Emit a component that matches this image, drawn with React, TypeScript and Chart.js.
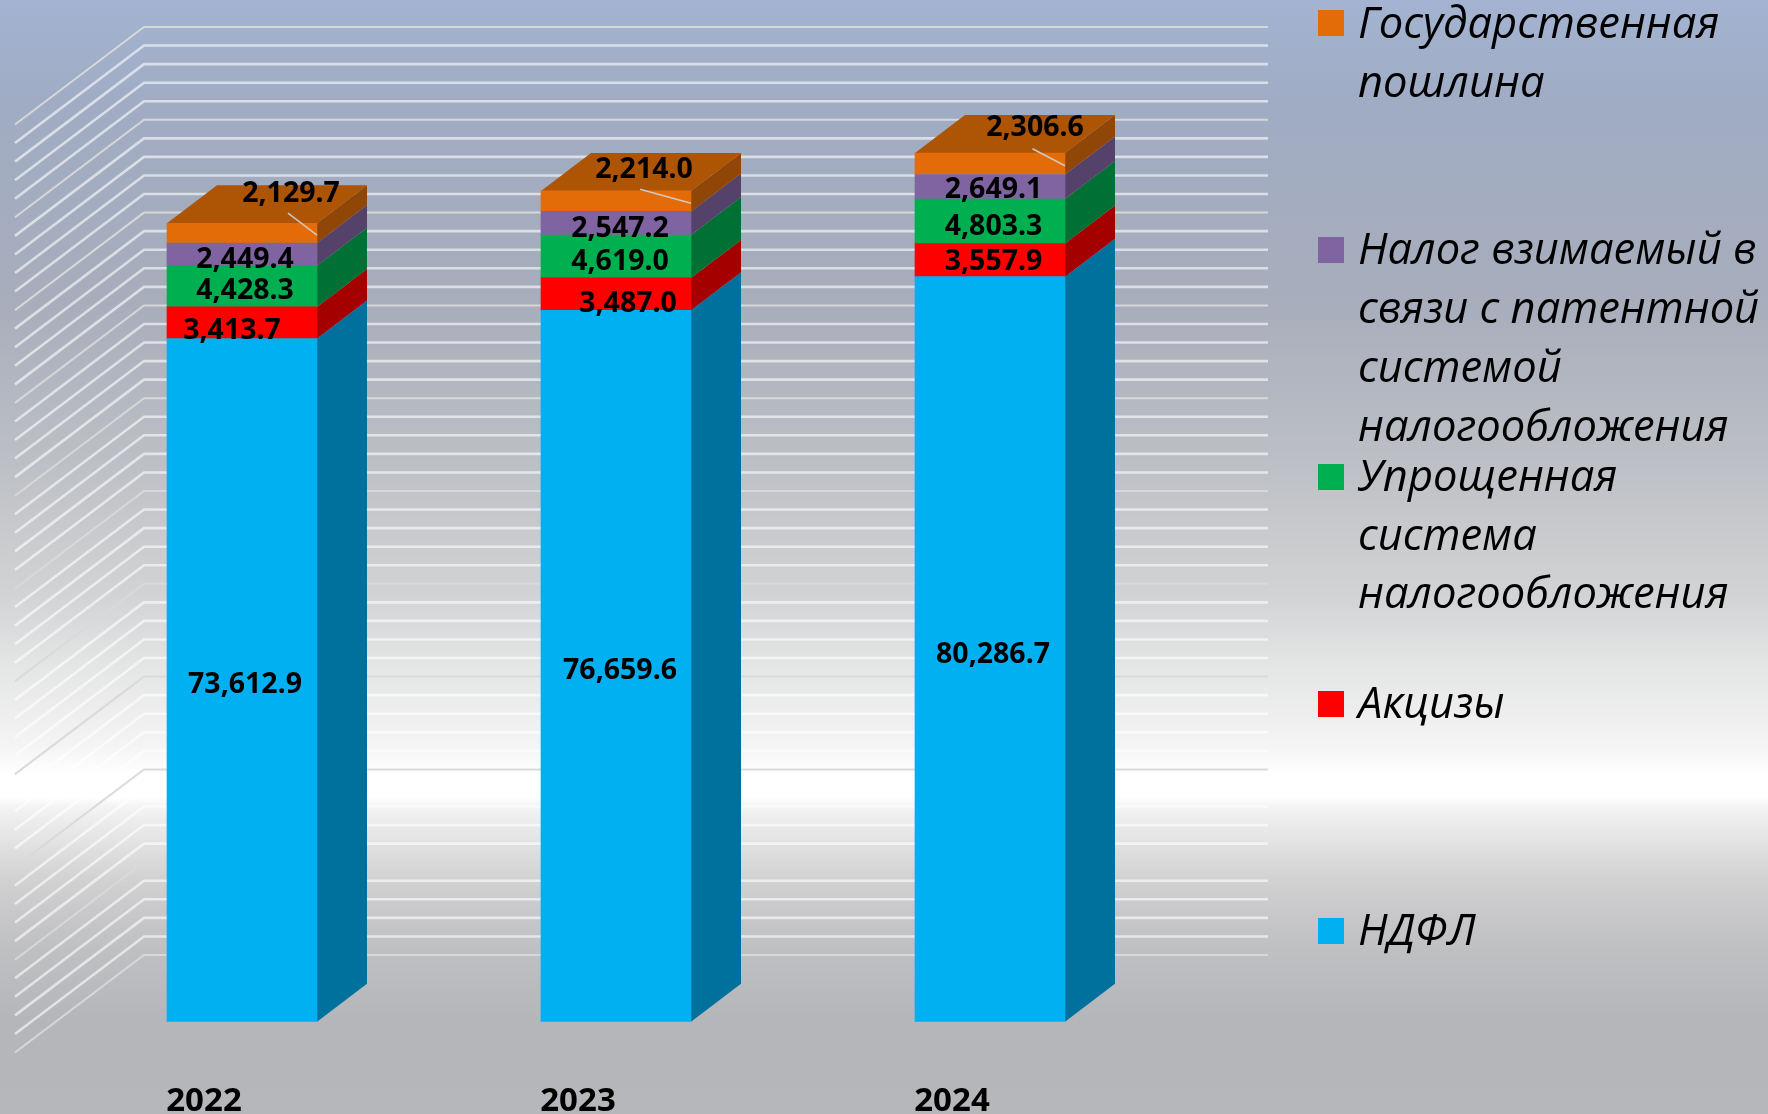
import React, { useEffect, useRef } from "react";
import { Chart, registerables } from "chart.js";

Chart.register(...registerables);

const years = ["2022", "2023", "2024"];
const ndfl = [73612.9, 76659.6, 80286.7];
const excise = [3413.7, 3487.0, 3557.9];
const simplified = [4428.3, 4619.0, 4803.3];
const patent = [2449.4, 2547.2, 2649.1];
const stateDuty = [2129.7, 2214.0, 2306.6];

const labelNdfl = "НДФЛ";
const labelExcise = "Акцизы";
const labelSimplified = ["Упрощенная", "система", "налогообложения"];
const labelPatent = ["Налог взимаемый в", "связи с патентной", "системой", "налогообложения"];
const labelDuty = ["Государственная", "пошлина"];

const WIDTH = 1768;
const HEIGHT = 1114;
const DEPTH_X = 50;
const DEPTH_Y = -38;
const WALL_DY = -66.7;
const FLOOR_DX = -129;
const FLOOR_DY = 97.5;
const GRID_RIGHT = 1268;
const GRID_LEFT_BACK = 144;

const seriesStyle = [
  { front: "#00B0F0", side: "#00719D" },
  { front: "#FF0000", side: "#A50000" },
  { front: "#00B050", side: "#007034" },
  { front: "#8064A2", side: "#55426B" },
  { front: "#E36C09", side: "#8F4606" },
];
const topColor = "#AD5405";

// label nudges per [series][year], px from the centre of the segment
const labelNudge = [
  [[3, 5], [4, 5], [3, 6]],
  [[-10, 8.5], [12, 9.5], [3.5, 1.5]],
  [[3, 5], [4, 5], [3.5, 5.5]],
  [[3, 5], [4, 6], [3.5, 3.5]],
  [[49, -39.5], [28, -31.5], [45, -35.5]],
];
const leaderStart = [[46, -20], [24, -12], [42.5, -15]];
const leaderEnd = [75, 2];

const legendItems = [
  { lines: labelDuty, series: 4, boxBottom: 38, gap: 59 },
  { lines: labelPatent, series: 3, boxBottom: 264, gap: 58.9 },
  { lines: labelSimplified, series: 2, boxBottom: 491, gap: 58.7 },
  { lines: [labelExcise], series: 1, boxBottom: 718, gap: 58 },
  { lines: [labelNdfl], series: 0, boxBottom: 945, gap: 58 },
];

const backgroundStops: [number, string][] = [
  [0, "#a3b3d1"],
  [100, "#a0acc4"],
  [300, "#a7adbb"],
  [460, "#bcbfc5"],
  [560, "#cdced0"],
  [595, "#d2d3d4"],
  [631, "#dbdcdd"],
  [666, "#e4e5e5"],
  [719, "#eeefee"],
  [745, "#f4f4f4"],
  [775, "#ffffff"],
  [797, "#ffffff"],
  [807, "#f3f3f3"],
  [843, "#e2e2e2"],
  [878, "#d2d2d3"],
  [913, "#c8c8ca"],
  [949, "#bfc0c2"],
  [1019, "#b5b6ba"],
  [1114, "#b6b7bb"],
];

const DATA_FONT = 'bold 28.5px "Noto Sans", sans-serif';
const LEGEND_FONT = 'italic 43.5px "Open Sans", sans-serif';

const scenePlugin = {
  id: "scene",
  beforeDraw(chart: any) {
    const { ctx } = chart;
    const g = ctx.createLinearGradient(0, 0, 0, HEIGHT);
    backgroundStops.forEach(([y, c]) => g.addColorStop(y / HEIGHT, c));
    ctx.save();
    ctx.fillStyle = g;
    ctx.fillRect(0, 0, WIDTH, HEIGHT);
    ctx.restore();
  },
  beforeDatasetsDraw(chart: any) {
    const { ctx, scales } = chart;
    const y = scales.y;
    ctx.save();
    y.ticks.forEach((t: any) => {
      const major = t.value % 10000 === 0;
      const py = y.getPixelForValue(t.value) + WALL_DY;
      ctx.beginPath();
      ctx.moveTo(GRID_LEFT_BACK + FLOOR_DX, py + FLOOR_DY);
      ctx.lineTo(GRID_LEFT_BACK, py);
      ctx.lineTo(GRID_RIGHT, py);
      ctx.lineWidth = major ? 2 : 2.6;
      ctx.strokeStyle = major ? "rgba(217,217,217,0.95)" : "rgba(255,255,255,0.6)";
      ctx.stroke();
    });
    // 3D side and top faces of the bars
    chart.data.datasets.forEach((_: any, di: number) => {
      const meta = chart.getDatasetMeta(di);
      meta.data.forEach((bar: any) => {
        const right = bar.x + bar.width / 2;
        const left = bar.x - bar.width / 2;
        ctx.fillStyle = seriesStyle[di].side;
        ctx.beginPath();
        ctx.moveTo(right, bar.y);
        ctx.lineTo(right + DEPTH_X, bar.y + DEPTH_Y);
        ctx.lineTo(right + DEPTH_X, bar.base + DEPTH_Y);
        ctx.lineTo(right, bar.base);
        ctx.closePath();
        ctx.fill();
        if (di === chart.data.datasets.length - 1) {
          ctx.fillStyle = topColor;
          ctx.beginPath();
          ctx.moveTo(left, bar.y);
          ctx.lineTo(left + DEPTH_X, bar.y + DEPTH_Y);
          ctx.lineTo(right + DEPTH_X, bar.y + DEPTH_Y);
          ctx.lineTo(right, bar.y);
          ctx.closePath();
          ctx.fill();
        }
      });
    });
    ctx.restore();
  },
  afterDatasetsDraw(chart: any) {
    const { ctx } = chart;
    ctx.save();
    const last = chart.data.datasets.length - 1;
    chart.getDatasetMeta(last).data.forEach((bar: any, i: number) => {
      const cy = (bar.y + bar.base) / 2;
      ctx.beginPath();
      ctx.moveTo(bar.x + leaderStart[i][0], cy + leaderStart[i][1]);
      ctx.lineTo(bar.x + leaderEnd[0], cy + leaderEnd[1]);
      ctx.lineWidth = 1.5;
      ctx.strokeStyle = "rgba(205,205,205,0.95)";
      ctx.stroke();
    });
    ctx.font = DATA_FONT;
    ctx.fillStyle = "#000";
    ctx.textAlign = "center";
    ctx.textBaseline = "middle";
    chart.data.datasets.forEach((ds: any, di: number) => {
      chart.getDatasetMeta(di).data.forEach((bar: any, i: number) => {
        const text = ds.data[i].toLocaleString("en-US", {
          minimumFractionDigits: 1,
          maximumFractionDigits: 1,
        });
        const [nx, ny] = labelNudge[di][i];
        ctx.fillText(text, bar.x + nx, (bar.y + bar.base) / 2 + ny);
      });
    });
    // legend
    ctx.font = LEGEND_FONT;
    ctx.textAlign = "left";
    ctx.textBaseline = "alphabetic";
    legendItems.forEach((item) => {
      ctx.fillStyle = seriesStyle[item.series].front;
      ctx.fillRect(1318, item.boxBottom - 26 - (item.series === 4 ? 2 : 1), 26, 26);
      ctx.fillStyle = "#000";
      item.lines.forEach((line, k) => {
        ctx.fillText(line, 1358, item.boxBottom + k * item.gap);
      });
    });
    ctx.restore();
  },
};

export default function App() {
  const ref = useRef<HTMLCanvasElement>(null);
  useEffect(() => {
    const chart = new Chart(ref.current as HTMLCanvasElement, {
      type: "bar",
      data: {
        labels: years,
        datasets: [
          { label: labelNdfl, data: ndfl, backgroundColor: seriesStyle[0].front },
          { label: labelExcise, data: excise, backgroundColor: seriesStyle[1].front },
          { label: labelSimplified.join(" "), data: simplified, backgroundColor: seriesStyle[2].front },
          { label: labelPatent.join(" "), data: patent, backgroundColor: seriesStyle[3].front },
          { label: labelDuty.join(" "), data: stateDuty, backgroundColor: seriesStyle[4].front },
        ],
      },
      options: {
        responsive: false,
        animation: false,
        layout: { padding: { left: 55, right: WIDTH - 1177, top: 93.7, bottom: 0 } },
        datasets: { bar: { barThickness: 150, borderSkipped: false } },
        plugins: { legend: { display: false }, tooltip: { enabled: false } },
        scales: {
          x: {
            stacked: true,
            grid: { display: false, drawTicks: false },
            border: { display: false },
            afterFit: (s: any) => { s.height = HEIGHT - 1021.7; },
            ticks: {
              color: "#000",
              labelOffset: -38,
              padding: 60,
              maxRotation: 0,
              font: { family: '"Noto Sans", sans-serif', size: 33, weight: "bold" },
            },
          },
          y: {
            stacked: true,
            display: true,
            min: 0,
            max: 100000,
            grid: { display: false },
            border: { display: false },
            afterFit: (s: any) => { s.width = 0; },
            ticks: { stepSize: 2000, display: false },
          },
        },
      } as any,
      plugins: [scenePlugin],
    });
    return () => chart.destroy();
  }, []);
  return (
    <canvas
      ref={ref}
      width={WIDTH}
      height={HEIGHT}
      style={{ position: "fixed", left: 0, top: 0, width: WIDTH, height: HEIGHT, display: "block" }}
    />
  );
}
